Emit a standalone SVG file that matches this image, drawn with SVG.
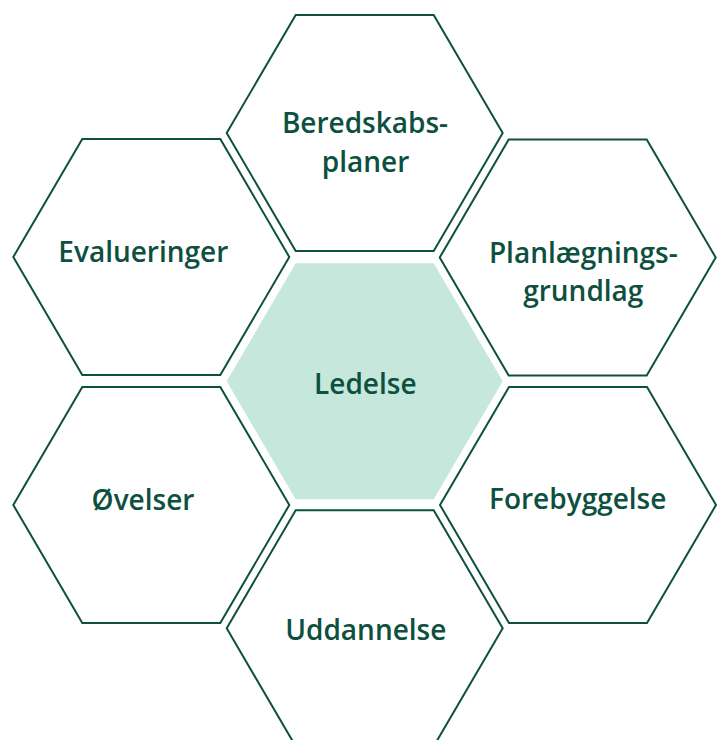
<svg xmlns="http://www.w3.org/2000/svg" xmlns:xlink="http://www.w3.org/1999/xlink" width="722" height="740" viewBox="0 0 722 740">
  <defs>
    <polygon id="hex" points="-138,0 -69,-118 69,-118 138,0 69,118 -69,118"/>
  </defs>
  <style>
    .outline { fill: #ffffff; stroke: #0d5040; stroke-width: 2; stroke-linejoin: miter; }
    .core { fill: #c5e7dc; stroke: none; }
    .label { font-family: "Open Sans", "Noto Sans", "Liberation Sans", sans-serif; font-weight: 600; font-size: 28px; fill: #0d5040; text-anchor: middle; }
  </style>
  <rect width="722" height="740" fill="#ffffff"/>
  <g id="connectors"/>
  <g id="node-beredskabsplaner">
    <use xlink:href="#hex" href="#hex" class="outline" transform="translate(364.7,133)"/>
    <text class="label" x="365" y="133.3">Beredskabs-</text>
    <text class="label" x="365.5" y="171.7">planer</text>
  </g>
  <g id="node-evalueringer">
    <use xlink:href="#hex" href="#hex" class="outline" transform="translate(151.3,257)"/>
    <text class="label" x="143.3" y="261.7">Evalueringer</text>
  </g>
  <g id="node-planlaegningsgrundlag">
    <use xlink:href="#hex" href="#hex" class="outline" transform="translate(577.7,257.5)"/>
    <text class="label" x="583.3" y="262.7">Planlægnings-</text>
    <text class="label" x="583.3" y="300.5">grundlag</text>
  </g>
  <g id="node-ledelse">
    <use xlink:href="#hex" href="#hex" class="core" transform="translate(364.7,381.3)"/>
    <text class="label" x="365.3" y="394">Ledelse</text>
  </g>
  <g id="node-oevelser">
    <use xlink:href="#hex" href="#hex" class="outline" transform="translate(151.3,505)"/>
    <text class="label" x="143" y="510">Øvelser</text>
  </g>
  <g id="node-forebyggelse">
    <use xlink:href="#hex" href="#hex" class="outline" transform="translate(578,505)"/>
    <text class="label" x="577.7" y="509.3">Forebyggelse</text>
  </g>
  <g id="node-uddannelse">
    <use xlink:href="#hex" href="#hex" class="outline" transform="translate(364.7,628.3)"/>
    <text class="label" x="365.8" y="640">Uddannelse</text>
  </g>
</svg>
